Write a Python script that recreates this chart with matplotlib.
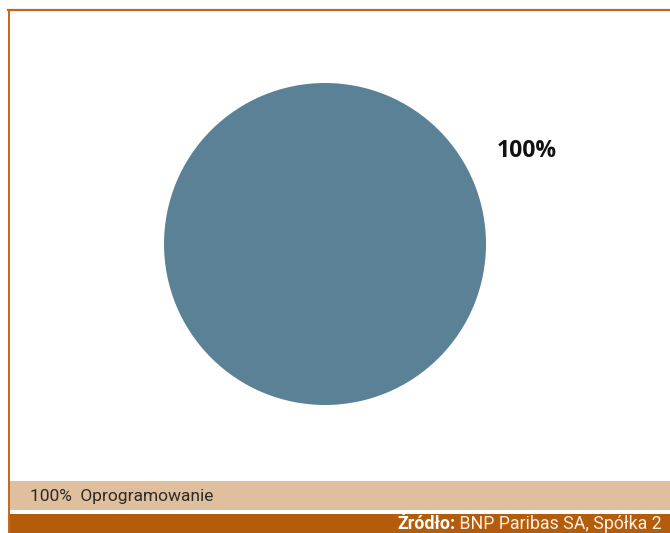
import matplotlib
matplotlib.use("Agg")
import matplotlib.pyplot as plt
from matplotlib.patches import Rectangle
from matplotlib.lines import Line2D

# data
categories = ["Oprogramowanie"]
shares = [100]
pie_labels = ["100%"]
legend_text = "100%  Oprogramowanie"
source_bold = "Źródło:"
source_rest = " BNP Paribas SA, Spółka 2"

W, H = 670, 533
PIE_COLOR = "#5b8197"
BORDER = "#c4671c"
LIGHT_BAND = "#e0bf9f"
DARK_BAND = "#b35c0b"


def fx(px):
    return px / W


def fy(py):
    # pixel row from top -> figure fraction
    return 1 - py / H


fig = plt.figure(figsize=(W / 100, H / 100), dpi=100)
fig.patch.set_facecolor("white")

# frame lines (top + left) and footer bands
fig.add_artist(Line2D([fx(8), fx(W)], [fy(9.5), fy(9.5)], color=BORDER, lw=1.6))
fig.add_artist(Line2D([fx(8.5), fx(8.5)], [fy(10), fy(H)], color=BORDER, lw=1.4))
fig.add_artist(Rectangle((fx(9), fy(510)), fx(W - 9), (510 - 481) / H,
                         facecolor=LIGHT_BAND, edgecolor="none"))
fig.add_artist(Rectangle((fx(9), fy(H)), fx(W - 9), (H - 514) / H,
                         facecolor=DARK_BAND, edgecolor="none"))

# pie, centred at (325, 244) px with radius 161 px
lim = 1.3
size = 2 * lim * 161
ax = fig.add_axes([fx(325 - size / 2), fy(244 + size / 2), size / W, size / H])
ax.pie(shares, labels=pie_labels, colors=[PIE_COLOR], startangle=-151.6,
       labeldistance=1.214,
       textprops=dict(fontsize=16.5, fontweight="bold", color="#111111",
                      family=["Open Sans", "DejaVu Sans"]),
       wedgeprops=dict(linewidth=0))
ax.set_xlim(-lim, lim)
ax.set_ylim(-lim, lim)
ax.set_aspect("equal")
ax.axis("off")

narrow = ["Roboto", "DejaVu Sans"]
fig.text(fx(30), fy(496), legend_text, fontsize=12.5, color="#2b2b2b",
         va="center", ha="left", family=narrow)

t = fig.text(fx(397), fy(524), source_bold, fontsize=12.8, color="white",
             fontweight="bold", va="center", ha="left", family=narrow)
fig.canvas.draw()
bb = t.get_window_extent()
fig.text(bb.x1 / W, fy(524), source_rest, fontsize=12.8, color="#fbeee2",
         va="center", ha="left", family=narrow)

fig.savefig("out.png", dpi=100)
